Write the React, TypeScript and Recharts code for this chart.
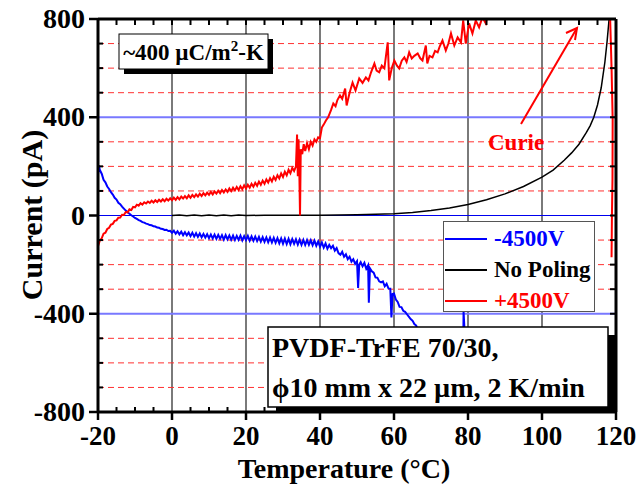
import { Legend, Line, LineChart, ReferenceLine, XAxis, YAxis } from "recharts";

const FONT = '"Liberation Serif", "Times New Roman", serif';

const xTicks = [
  -20, -15, -10, -5, 0, 5, 10, 15, 20, 25, 30, 35, 40, 45, 50, 55, 60, 65, 70,
  75, 80, 85, 90, 95, 100, 105, 110, 115, 120,
];
const yTicks = [
  -800, -700, -600, -500, -400, -300, -200, -100, 0, 100, 200, 300, 400, 500,
  600, 700, 800,
];
const gridTemps = [0, 20, 40, 60, 80, 100];
const dashedCurrents = [-700, -600, -500, -300, -200, -100, 100, 200, 300, 500, 600, 700];
const blueCurrents = [-400, 400];
const legendOrder = ["-4500V", "No Poling", "+4500V"];

// [temperature °C, current pA]
const minus4500V: [number, number][] = [
  [-20, 165], [-19.8, 205], [-19.5, 185], [-19, 170], [-18.5, 145], [-18, 135],
  [-17.5, 118], [-17, 108], [-16.5, 95], [-16, 85], [-15.5, 72], [-15, 65],
  [-14.5, 52], [-14, 46], [-13.5, 36], [-13, 28], [-12.5, 20], [-12, 13],
  [-11.5, 7], [-11, 1], [-10.5, -4], [-10, -10], [-9.5, -14], [-9, -19],
  [-8.5, -22], [-8, -27], [-7.5, -29], [-7, -33], [-6.5, -35], [-6, -39],
  [-5.5, -40], [-5, -44], [-4.5, -45], [-4, -49], [-3.5, -50], [-3, -54],
  [-2.5, -55], [-2, -59], [-1.5, -58], [-1, -63], [-0.5, -62], [0, -70],
  [0.5, -62], [1, -74], [1.5, -64], [2, -77], [2.5, -66], [3, -80], [3.5, -68],
  [4, -81], [4.5, -69], [5, -84], [5.5, -70], [6, -86], [6.5, -72], [7, -87],
  [7.5, -73], [8, -89], [8.5, -75], [9, -90], [9.5, -76], [10, -92], [10.5, -77],
  [11, -93], [11.5, -78], [12, -95], [12.5, -79], [13, -95], [13.5, -80],
  [14, -98], [14.5, -80], [15, -97], [15.5, -81], [16, -99], [16.5, -82],
  [17, -100], [17.5, -83], [18, -99], [18.5, -82], [19, -101], [19.5, -84],
  [20, -100], [20.5, -83], [21, -102], [21.5, -85], [22, -103], [22.5, -86],
  [23, -104], [23.5, -87], [24, -106], [24.5, -88], [25, -107], [25.5, -89],
  [26, -109], [26.5, -90], [27, -110], [27.5, -91], [28, -111], [28.5, -92],
  [29, -113], [29.5, -93], [30, -115], [30.5, -94], [31, -116], [31.5, -95],
  [32, -117], [32.5, -96], [33, -115], [33.5, -97], [34, -118], [34.5, -98],
  [35, -119], [35.5, -99], [36, -120], [36.5, -100], [37, -119], [37.5, -101],
  [38, -121], [38.5, -102], [39, -123], [39.5, -106], [40, -127], [40.5, -110],
  [41, -131], [41.5, -114], [42, -135], [42.5, -120], [43, -133], [43.5, -123],
  [44, -143], [44.5, -133], [45, -153], [45.5, -160], [46, -148], [46.5, -168],
  [47, -158], [47.5, -178], [48, -168], [48.5, -188], [49, -178], [49.5, -197],
  [50, -186], [50.3, -295], [50.6, -200], [51, -190], [51.5, -207], [52, -193],
  [52.5, -217], [53, -203], [53.2, -355], [53.5, -215], [54, -227], [54.5, -233],
  [55, -252], [55.5, -253], [56, -268], [56.5, -272], [57, -268], [57.5, -288],
  [58, -278], [58.5, -297], [59, -298], [59.3, -415], [59.6, -320], [60, -318],
  [60.5, -342], [61, -352], [61.5, -372], [62, -373], [62.5, -388], [63, -392],
  [63.5, -402], [64, -412], [64.5, -422], [65, -428], [65.5, -442], [66, -448],
  [67, -490], [68, -540], [69, -600], [70, -660], [72, -760], [74, -850],
  [78.5, -900], [78.8, -390], [79.1, -480], [79.4, -900],
];

const noPoling: [number, number][] = [
  [0, 0], [2, 2], [4, -1], [6, 2], [8, -1], [10, 2], [12, -1], [14, 2], [16, -1],
  [18, 2], [20, 0], [25, 1], [30, 1], [35, 1], [40, 1], [45, 2], [50, 3], [55, 5],
  [60, 7], [65, 12], [70, 20], [75, 31], [80, 45], [85, 64], [90, 88], [95, 118],
  [100, 156], [103, 185], [106, 225], [108, 255], [110, 290], [112, 338],
  [113, 365], [114, 400], [115, 450], [116, 520], [117, 625], [117.6, 710],
  [118.2, 810],
];

const plus4500V: [number, number][] = [
  [-20, -125], [-19.5, -102], [-19, -93], [-18.5, -74], [-18, -70], [-17.5, -55],
  [-17, -50], [-16.5, -37], [-16, -34], [-15.5, -22], [-15, -20], [-14.5, -9],
  [-14, -8], [-13.5, 3], [-13, 2], [-12.5, 14], [-12, 13], [-11.5, 25], [-11, 22],
  [-10.5, 35], [-10, 33], [-9.5, 44], [-9, 40], [-8.5, 50], [-8, 44], [-7.5, 54],
  [-7, 49], [-6.5, 57], [-6, 51], [-5.5, 60], [-5, 53], [-4.5, 62], [-4, 55],
  [-3.5, 64], [-3, 57], [-2.5, 66], [-2, 58], [-1.5, 68], [-1, 61], [-0.5, 70],
  [0, 62], [0.5, 73], [1, 64], [1.5, 75], [2, 66], [2.5, 77], [3, 69], [3.5, 79],
  [4, 70], [4.5, 82], [5, 72], [5.5, 84], [6, 75], [6.5, 86], [7, 77], [7.5, 89],
  [8, 79], [8.5, 91], [9, 82], [9.5, 93], [10, 84], [10.5, 96], [11, 86],
  [11.5, 98], [12, 89], [12.5, 101], [13, 91], [13.5, 104], [14, 94], [14.5, 106],
  [15, 96], [15.5, 110], [16, 99], [16.5, 113], [17, 102], [17.5, 116], [18, 104],
  [18.5, 119], [19, 107], [19.5, 123], [20, 110], [20.5, 125], [21, 113],
  [21.5, 129], [22, 117], [22.5, 133], [23, 121], [23.5, 138], [24, 125],
  [24.5, 142], [25, 129], [25.5, 147], [26, 134], [26.5, 152], [27, 139],
  [27.5, 158], [28, 145], [28.5, 164], [29, 151], [29.5, 171], [30, 157],
  [30.5, 178], [31, 164], [31.5, 186], [32, 172], [32.5, 194], [33, 181],
  [33.5, 200], [33.8, 330], [34, 160], [34.2, 310], [34.4, 190], [34.6, 0],
  [34.8, 270], [35.2, 250], [35.6, 290], [36, 262], [36.5, 295], [37, 270],
  [37.5, 300], [38, 285], [38.5, 310], [39, 300], [39.5, 318], [40, 315],
  [40.5, 358], [41, 370], [41.6, 387], [42.2, 400], [43, 430], [43.6, 456],
  [44.2, 445], [44.7, 470], [45.4, 489], [46, 475], [46.8, 517], [47.2, 448],
  [48, 500], [48.8, 541], [49.6, 509], [50.6, 558], [51.5, 540], [52.4, 562],
  [53.1, 550], [53.8, 583], [54.7, 619], [55.3, 590], [56, 583], [56.7, 610],
  [57.4, 599], [58.3, 705], [58.7, 550], [59.4, 600], [60.1, 631], [60.8, 610],
  [61.4, 599], [62.1, 630], [62.8, 644], [63.4, 625], [64.1, 664], [64.8, 639],
  [65.5, 650], [66.4, 660], [67.1, 640], [67.7, 631], [68.6, 692], [69, 619],
  [69.6, 650], [70.4, 644], [71.1, 670], [71.8, 664], [72.4, 690], [73.1, 713],
  [74, 672], [74.7, 700], [75.4, 741], [76.3, 692], [77.2, 725], [78.1, 705],
  [78.7, 794], [79.4, 700], [80.3, 782], [81.2, 741], [82.1, 794], [83, 766],
  [83.9, 807], [84.8, 782], [85.3, 822],
];

// +4500V trace coming back down through the Curie point
const plus4500VCurie: [number, number][] = [
  [118.4, 810], [118.8, 600], [119.1, 390], [119.05, 150], [118.9, 0], [118.8, -170],
];

const toPoints = (pts: [number, number][]) => pts.map(([t, i]) => ({ t, i }));

const tickText = {
  fontFamily: FONT,
  fontWeight: "bold" as const,
  fill: "#000",
};

const BottomTick = (props: any) => {
  const { x, y, payload } = props;
  const v = payload.value;
  const major = v % 20 === 0;
  return (
    <g>
      {major ? (
        <line x1={x} x2={x} y1={y} y2={y + 8} stroke="#000" strokeWidth={2.5} />
      ) : (
        <line x1={x} x2={x} y1={y} y2={y - 5} stroke="#000" strokeWidth={2} />
      )}
      {major && (
        <text x={x} y={y + 33} textAnchor="middle" fontSize={27} {...tickText}>
          {String(v)}
        </text>
      )}
    </g>
  );
};

const TopTick = (props: any) => {
  const { x, y } = props;
  return (
    <g>
      <line x1={x} x2={x} y1={y + 1} y2={y + 6} stroke="#000" strokeWidth={2} />
    </g>
  );
};

const LeftTick = (props: any) => {
  const { x, y, payload } = props;
  const v = payload.value;
  const major = v % 400 === 0;
  return (
    <g>
      {major ? (
        <line x1={x - 9} x2={x} y1={y} y2={y} stroke="#000" strokeWidth={2.5} />
      ) : (
        <line x1={x} x2={x + 5} y1={y} y2={y} stroke="#000" strokeWidth={2} />
      )}
      {major && (
        <text x={x - 13} y={y + 9} textAnchor="end" fontSize={28} {...tickText}>
          {String(v)}
        </text>
      )}
    </g>
  );
};

const RightTick = (props: any) => {
  const { x, y } = props;
  return (
    <g>
      <line x1={x - 6} x2={x - 1} y1={y} y2={y} stroke="#000" strokeWidth={2} />
    </g>
  );
};

const LegendBox = ({ payload }: any) => {
  const items = legendOrder
    .map((name) => (payload || []).find((p: any) => p.value === name))
    .filter(Boolean);
  return (
    <div
      style={{
        width: 150,
        height: 89,
        border: "1.5px solid #555",
        background: "#fff",
        boxSizing: "content-box",
      }}
    >
      {items.map((p: any) => (
        <div
          key={p.value}
          style={{ display: "flex", alignItems: "center", height: 28, marginTop: 3 }}
        >
          <div style={{ width: 42, height: 2, background: p.color, marginLeft: 1 }} />
          <span
            style={{
              marginLeft: 7,
              fontFamily: FONT,
              fontWeight: "bold",
              fontSize: 23,
              color: p.color,
              lineHeight: "28px",
            }}
          >
            {p.value}
          </span>
        </div>
      ))}
    </div>
  );
};

export default function App() {
  return (
    <div style={{ position: "absolute", left: 0, top: 0, width: 637, height: 487, background: "#fff" }}>
      <LineChart width={637} height={487} margin={{ top: 18, right: 20, bottom: 0, left: 0 }}>
        <XAxis
          dataKey="t"
          type="number"
          domain={[-20, 120]}
          allowDataOverflow
          ticks={xTicks}
          interval={0}
          height={75}
          tickSize={0}
          tickMargin={0}
          tick={BottomTick}
          axisLine={{ stroke: "#000", strokeWidth: 3 }}
        />
        <XAxis
          xAxisId="top"
          orientation="top"
          dataKey="t"
          type="number"
          domain={[-20, 120]}
          allowDataOverflow
          ticks={xTicks}
          interval={0}
          height={1}
          tickSize={0}
          tickMargin={0}
          tick={TopTick}
          axisLine={{ stroke: "#000", strokeWidth: 3 }}
        />
        <YAxis
          type="number"
          domain={[-800, 800]}
          allowDataOverflow
          ticks={yTicks}
          interval={0}
          width={98}
          tickSize={0}
          tickMargin={0}
          tick={LeftTick}
          axisLine={{ stroke: "#000", strokeWidth: 3 }}
        />
        <YAxis
          yAxisId="right"
          orientation="right"
          type="number"
          domain={[-800, 800]}
          allowDataOverflow
          ticks={yTicks}
          interval={0}
          width={1}
          tickSize={0}
          tickMargin={0}
          tick={RightTick}
          axisLine={{ stroke: "#000", strokeWidth: 3 }}
        />
        {gridTemps.map((t) => (
          <ReferenceLine key={`v${t}`} x={t} stroke="#7a7a7a" strokeWidth={2} />
        ))}
        {dashedCurrents.map((c) => (
          <ReferenceLine key={`d${c}`} y={c} stroke="#ff3030" strokeWidth={1} strokeDasharray="6 4" />
        ))}
        {blueCurrents.map((c) => (
          <ReferenceLine key={`b${c}`} y={c} stroke="#7878ff" strokeWidth={2} />
        ))}
        <ReferenceLine y={0} stroke="#0000ee" strokeWidth={1} />
        <Line
          data={toPoints(minus4500V)}
          dataKey="i"
          name="-4500V"
          type="linear"
          stroke="#0000ff"
          strokeWidth={2}
          dot={false}
          isAnimationActive={false}
        />
        <Line
          data={toPoints(noPoling)}
          dataKey="i"
          name="No Poling"
          type="linear"
          stroke="#000000"
          strokeWidth={1.5}
          dot={false}
          isAnimationActive={false}
        />
        <Line
          data={toPoints(plus4500V)}
          dataKey="i"
          name="+4500V"
          type="linear"
          stroke="#ff0000"
          strokeWidth={2}
          dot={false}
          isAnimationActive={false}
        />
        <Line
          data={toPoints(plus4500VCurie)}
          dataKey="i"
          name="+4500V curie"
          legendType="none"
          type="linear"
          stroke="#ff0000"
          strokeWidth={2}
          dot={false}
          isAnimationActive={false}
        />
        <Legend
          layout="horizontal"
          verticalAlign="middle"
          align="center"
          content={LegendBox}
          wrapperStyle={{ left: 443, top: 221, width: 153, height: 92 }}
        />
      </LineChart>
      <svg
        width={637}
        height={487}
        style={{ position: "absolute", left: 0, top: 0, pointerEvents: "none" }}
      >
        {/* pyroelectric coefficient box */}
        <rect x={124} y={39} width={149} height={35} fill="#000" />
        <rect x={119} y={34} width={149} height={35} fill="#fff" stroke="#000" strokeWidth={1} />
        <text x={193.5} y={60} textAnchor="middle" fontFamily={FONT} fontWeight="bold" fontSize={23}>
          ~400 µC/m
          <tspan dy={-9} fontSize={15}>2</tspan>
          <tspan dy={9}>-K</tspan>
        </text>

        {/* sample box */}
        <rect x={276} y={335} width={340} height={78} fill="#000" />
        <rect x={268} y={327} width={340} height={80} fill="#fff" stroke="#000" strokeWidth={1.5} />
        <text x={272} y={357} fontFamily={FONT} fontWeight="bold" fontSize={28}>
          PVDF-TrFE 70/30,
        </text>
        <text x={272} y={397} fontFamily={FONT} fontWeight="bold" fontSize={28}>
          ϕ10 mm x 22 µm, 2 K/min
        </text>

        {/* Curie annotation */}
        <line x1={521} y1={124} x2={577} y2={28} stroke="#ff0000" strokeWidth={2} />
        <polyline points="566,33 577,28 575,40" fill="none" stroke="#ff0000" strokeWidth={2} />
        <text x={488} y={150} fontFamily={FONT} fontWeight="bold" fontSize={23} fill="#ff0000">
          Curie
        </text>

        {/* axis titles */}
        <text x={344} y={478} textAnchor="middle" fontFamily={FONT} fontWeight="bold" fontSize={28}>
          Temperature (°C)
        </text>
        <text
          x={42}
          y={215}
          textAnchor="middle"
          transform="rotate(-90 42 215)"
          fontFamily={FONT}
          fontWeight="bold"
          fontSize={30}
        >
          Current (pA)
        </text>
      </svg>
    </div>
  );
}
